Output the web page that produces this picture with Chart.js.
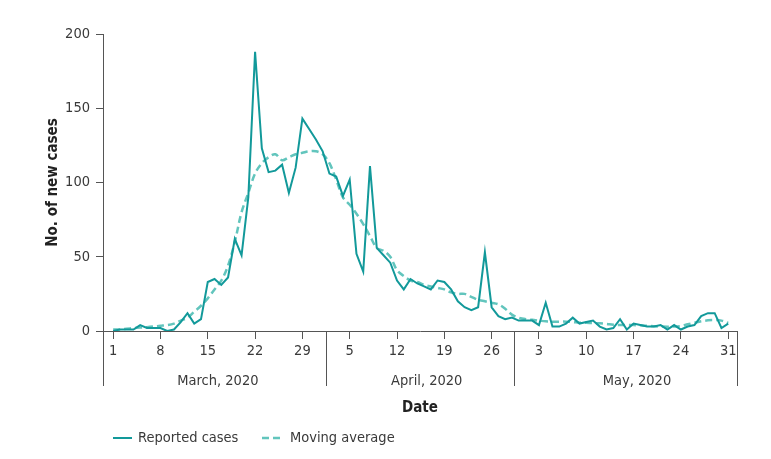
<!DOCTYPE html>
<html>
<head>
<meta charset="utf-8">
<script src="https://cdn.jsdelivr.net/npm/chart.js@4.4.1/dist/chart.umd.min.js"></script>
<style>
  html, body { margin: 0; padding: 0; background: #fff; }
  #wrap { width: 771px; height: 459px; position: relative; }
</style>
</head>
<body>
<div id="wrap"><canvas id="casesChart"></canvas></div>
<script>
// Daily new cases, 1 March to 31 May 2020
const reportedCases = [
  0, 1, 1, 1, 4, 2, 2, 2, 0, 1, 6, 12, 5, 8, 33, 35, 31, 36, 62, 51, 90, 188, 123, 107, 108, 112, 93, 110, 143, 136, 129,
  121, 106, 104, 91, 102, 52, 40, 111, 56, 51, 46, 34, 28, 35, 32, 30, 28, 34, 33, 28, 20, 16, 14, 16, 53, 16, 10, 8, 9, 7,
  7, 7, 4, 19, 3, 3, 5, 9, 5, 6, 7, 3, 1, 2, 8, 1, 5, 4, 3, 3, 4, 1, 4, 1, 3, 4, 10, 12, 12, 2, 5
];
const movingAverage = [
  1, 1, 1.5, 2, 2.3, 2.6, 3, 3.5, 4, 5, 7, 9, 13, 17, 22, 28, 34, 44, 60, 80, 93, 106, 113, 117, 119, 115, 117, 119, 120, 121, 121,
  119, 113, 102, 90, 85, 79, 72, 64, 56, 54, 50, 41, 37, 34, 33, 31, 30, 29, 28, 26, 25, 25, 23, 21, 20, 19, 18, 15, 11, 9,
  8, 7.5, 7, 6.5, 6.3, 6.3, 6.3, 6, 5.6, 5.5, 5.3, 5.2, 4.8, 4.2, 4, 4, 4, 3.8, 3.5, 3.2, 3, 2.9, 3, 3.4, 4.5, 5.5, 6.5, 7.2, 7.4, 7, 5.5
];

// x axis: day number counted from 1 March
const tickDays = [1, 8, 15, 22, 29, 36, 43, 50, 57, 64, 71, 78, 85, 92];
const tickLabels = ['1', '8', '15', '22', '29', '5', '12', '19', '26', '3', '10', '17', '24', '31'];
const months = ['March, 2020', 'April, 2020', 'May, 2020'];
const monthCentres = [16.5, 47.4, 78.5];
const monthBreaks = [32.5, 60.3];
const yTicks = [0, 50, 100, 150, 200];

const legendNames = ['Reported cases', 'Moving average'];

const FONT = '"Liberation Sans Narrow", "DejaVu Sans Condensed", "Open Sans", sans-serif';
const AXIS = '#555555';
const TEXT = '#3a3a3a';
const SOLID = '#12999a';
const DASHED = '#62c5bd';

const toPoints = (arr) => arr.map((v, i) => ({ x: i + 1, y: v }));

// month labels, brackets under the axis and the legend
const annotations = {
  id: 'annotations',
  afterDraw(chart) {
    const { ctx, scales: { x } } = chart;
    const axisY = chart.chartArea.bottom;
    ctx.save();
    ctx.strokeStyle = AXIS;
    ctx.lineWidth = 1;
    const breaks = [x.left, ...monthBreaks.map(d => x.getPixelForValue(d)), x.right];
    breaks.forEach(px => {
      const p = Math.round(px) + 0.5;
      ctx.beginPath();
      ctx.moveTo(p, axisY);
      ctx.lineTo(p, axisY + 55);
      ctx.stroke();
    });

    ctx.fillStyle = TEXT;
    ctx.font = '14.5px ' + FONT;
    ctx.textAlign = 'center';
    ctx.textBaseline = 'middle';
    months.forEach((m, i) => {
      ctx.fillText(m, x.getPixelForValue(monthCentres[i]), axisY + 50);
    });

    // legend
    const ly = 438;
    ctx.lineWidth = 2;
    ctx.strokeStyle = SOLID;
    ctx.beginPath();
    ctx.moveTo(113, ly);
    ctx.lineTo(132, ly);
    ctx.stroke();
    ctx.strokeStyle = DASHED;
    ctx.lineWidth = 2.5;
    ctx.setLineDash([7, 4]);
    ctx.beginPath();
    ctx.moveTo(262, ly);
    ctx.lineTo(284, ly);
    ctx.stroke();
    ctx.setLineDash([]);
    ctx.textAlign = 'left';
    ctx.fillText(legendNames[0], 138, ly);
    ctx.fillText(legendNames[1], 290, ly);
    ctx.restore();
  }
};

new Chart(document.getElementById('casesChart'), {
  type: 'line',
  data: {
    datasets: [
      {
        label: legendNames[0],
        data: toPoints(reportedCases),
        borderColor: SOLID,
        borderWidth: 2,
        pointRadius: 0,
        tension: 0,
        order: 1
      },
      {
        label: legendNames[1],
        data: toPoints(movingAverage),
        borderColor: DASHED,
        borderWidth: 2.5,
        borderDash: [7, 4],
        pointRadius: 0,
        tension: 0.35,
        order: 2
      }
    ]
  },
  options: {
    responsive: true,
    maintainAspectRatio: false,
    animation: false,
    layout: { padding: { top: 34, right: 34, left: 0, bottom: 0 } },
    plugins: {
      legend: { display: false },
      tooltip: { enabled: false }
    },
    scales: {
      x: {
        type: 'linear',
        min: -0.5,
        max: 93.3,
        afterBuildTicks: (scale) => { scale.ticks = tickDays.map(v => ({ value: v })); },
        afterFit: (scale) => { scale.height = 128; },
        ticks: {
          autoSkip: false,
          maxRotation: 0,
          padding: 4,
          color: TEXT,
          font: { family: FONT, size: 14.5 },
          callback: (v) => tickLabels[tickDays.indexOf(v)]
        },
        grid: { drawOnChartArea: false, tickLength: 8, color: AXIS },
        border: { color: AXIS },
        title: {
          display: true,
          text: 'Date',
          color: '#222',
          font: { family: FONT, size: 15, weight: 'bold' },
          padding: { bottom: 42 }
        }
      },
      y: {
        min: 0,
        max: 200,
        afterBuildTicks: (scale) => { scale.ticks = yTicks.map(v => ({ value: v })); },
        afterFit: (scale) => { scale.width = 103; },
        ticks: {
          padding: 6,
          color: TEXT,
          font: { family: FONT, size: 14.5 }
        },
        grid: { drawOnChartArea: false, tickLength: 7, color: AXIS },
        border: { color: AXIS },
        title: {
          display: true,
          text: 'No. of new cases',
          color: '#222',
          font: { family: FONT, size: 15, weight: 'bold' },
          padding: { top: 44 }
        }
      }
    }
  },
  plugins: [annotations]
});
</script>
</body>
</html>
